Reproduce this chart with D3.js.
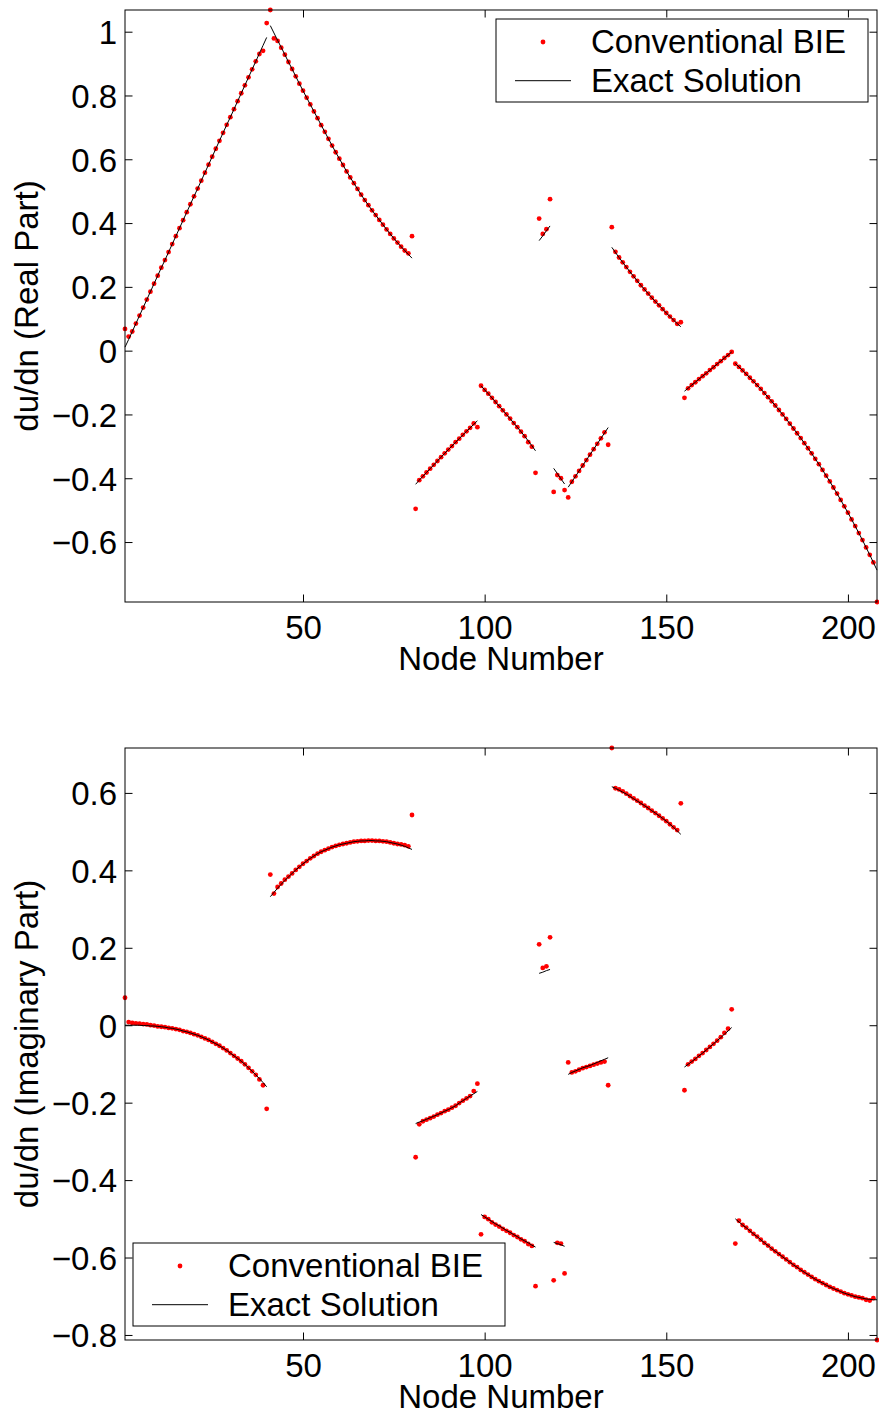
<!DOCTYPE html>
<html>
<head>
<meta charset="utf-8">
<script src="https://cdn.jsdelivr.net/npm/d3@7"></script>
<style>
  body { margin: 0; background: #fff; }
  svg text { font-family: "Liberation Sans", Arial, Helvetica, sans-serif; fill: #000; }
</style>
</head>
<body>
<svg id="chart" width="879" height="1414"></svg>
<script>
// Boundary nodes 1..208, split into ten boundary segments (first node of each)
const nodeCount = 208;
const segmentStarts = [1, 41, 81, 99, 115, 119, 123, 135, 155, 169];
const xTicks = [50, 100, 150, 200];
const realTicks = [-0.6, -0.4, -0.2, 0, 0.2, 0.4, 0.6, 0.8, 1];
const imagTicks = [-0.8, -0.6, -0.4, -0.2, 0, 0.2, 0.4, 0.6];
const legendLabels = ["Conventional BIE", "Exact Solution"];

// du/dn, real part — exact solution at each node
const exactReal = [
  0.011, 0.035, 0.060, 0.085, 0.110, 0.135, 0.160, 0.185, 0.210, 0.235,
  0.260, 0.284, 0.309, 0.334, 0.359, 0.384, 0.409, 0.434, 0.459, 0.484,
  0.508, 0.533, 0.558, 0.583, 0.608, 0.633, 0.658, 0.683, 0.708, 0.732,
  0.757, 0.782, 0.807, 0.832, 0.857, 0.882, 0.907, 0.932, 0.957, 0.982,
  1.019, 0.996, 0.973, 0.951, 0.928, 0.905, 0.883, 0.860, 0.837, 0.815,
  0.793, 0.772, 0.750, 0.729, 0.707, 0.686, 0.664, 0.643, 0.622, 0.602,
  0.582, 0.562, 0.543, 0.525, 0.507, 0.489, 0.472, 0.456, 0.440, 0.425,
  0.410, 0.395, 0.380, 0.366, 0.352, 0.339, 0.326, 0.314, 0.302, 0.290,
  -0.419, -0.406, -0.394, -0.382, -0.370, -0.358, -0.346, -0.334, -0.322, -0.310,
  -0.299, -0.287, -0.276, -0.264, -0.253, -0.242, -0.231, -0.220,
  -0.110, -0.123, -0.135, -0.148, -0.161, -0.174, -0.187, -0.200, -0.213, -0.227,
  -0.240, -0.254, -0.268, -0.283, -0.298, -0.314,
  0.345, 0.360, 0.376, 0.391,
  -0.369, -0.385, -0.402, -0.418,
  -0.428, -0.411, -0.394, -0.377, -0.360, -0.343, -0.326, -0.309, -0.292, -0.275,
  -0.258, -0.241,
  0.324, 0.308, 0.292, 0.277, 0.262, 0.247, 0.233, 0.219, 0.205, 0.192,
  0.179, 0.166, 0.154, 0.142, 0.130, 0.118, 0.107, 0.096, 0.085, 0.075,
  -0.127, -0.118, -0.108, -0.099, -0.089, -0.080, -0.071, -0.061, -0.052, -0.042,
  -0.033, -0.023, -0.014, -0.004,
  -0.040, -0.051, -0.062, -0.073, -0.085, -0.096, -0.108, -0.120, -0.133, -0.146,
  -0.159, -0.172, -0.186, -0.200, -0.214, -0.229, -0.244, -0.259, -0.274, -0.290,
  -0.306, -0.322, -0.339, -0.356, -0.374, -0.392, -0.410, -0.429, -0.448, -0.468,
  -0.488, -0.508, -0.529, -0.550, -0.572, -0.594, -0.617, -0.640, -0.664, -0.688
];

// du/dn, real part — conventional BIE result at each node
const bieReal = [
  0.068, 0.044, 0.060, 0.085, 0.110, 0.135, 0.160, 0.185, 0.210, 0.235,
  0.260, 0.284, 0.309, 0.334, 0.359, 0.384, 0.409, 0.434, 0.459, 0.484,
  0.508, 0.533, 0.558, 0.583, 0.608, 0.633, 0.658, 0.683, 0.708, 0.732,
  0.757, 0.782, 0.807, 0.832, 0.857, 0.882, 0.907, 0.930, 0.940, 1.027,
  1.068, 0.979, 0.971, 0.950, 0.928, 0.905, 0.883, 0.860, 0.837, 0.815,
  0.793, 0.772, 0.750, 0.729, 0.707, 0.686, 0.664, 0.643, 0.622, 0.602,
  0.582, 0.562, 0.543, 0.525, 0.507, 0.489, 0.472, 0.456, 0.440, 0.425,
  0.410, 0.395, 0.380, 0.366, 0.352, 0.339, 0.326, 0.314, 0.305, 0.359,
  -0.496, -0.406, -0.394, -0.382, -0.370, -0.358, -0.346, -0.334, -0.322, -0.310,
  -0.299, -0.287, -0.276, -0.264, -0.253, -0.242, -0.228, -0.240,
  -0.110, -0.123, -0.135, -0.148, -0.161, -0.174, -0.187, -0.200, -0.213, -0.227,
  -0.240, -0.254, -0.268, -0.287, -0.301, -0.383,
  0.414, 0.366, 0.381, 0.475,
  -0.443, -0.390, -0.400, -0.437,
  -0.460, -0.411, -0.394, -0.377, -0.360, -0.343, -0.326, -0.309, -0.292, -0.275,
  -0.256, -0.295,
  0.387, 0.310, 0.292, 0.277, 0.262, 0.247, 0.233, 0.219, 0.205, 0.192,
  0.179, 0.166, 0.154, 0.142, 0.130, 0.118, 0.107, 0.096, 0.084, 0.089,
  -0.148, -0.118, -0.108, -0.099, -0.089, -0.080, -0.071, -0.061, -0.052, -0.042,
  -0.033, -0.023, -0.014, -0.004,
  -0.041, -0.051, -0.062, -0.073, -0.085, -0.096, -0.108, -0.120, -0.133, -0.146,
  -0.159, -0.172, -0.186, -0.200, -0.214, -0.229, -0.244, -0.259, -0.274, -0.290,
  -0.306, -0.322, -0.339, -0.356, -0.374, -0.392, -0.410, -0.429, -0.448, -0.468,
  -0.488, -0.508, -0.529, -0.550, -0.572, -0.594, -0.617, -0.640, -0.664, -0.788
];

// du/dn, imaginary part — exact solution at each node
const exactImag = [
  0.000, 0.000, 0.000, 0.000, 0.000, -0.001, -0.001, -0.002, -0.002, -0.003,
  -0.004, -0.005, -0.007, -0.008, -0.010, -0.012, -0.015, -0.017, -0.020, -0.023,
  -0.026, -0.030, -0.034, -0.038, -0.043, -0.048, -0.053, -0.059, -0.065, -0.072,
  -0.079, -0.086, -0.093, -0.101, -0.110, -0.119, -0.128, -0.138, -0.148, -0.159,
  0.332, 0.343, 0.354, 0.364, 0.374, 0.383, 0.392, 0.401, 0.409, 0.417,
  0.424, 0.431, 0.437, 0.443, 0.448, 0.452, 0.456, 0.460, 0.463, 0.466,
  0.468, 0.470, 0.472, 0.474, 0.475, 0.476, 0.476, 0.477, 0.477, 0.476,
  0.476, 0.475, 0.474, 0.472, 0.470, 0.468, 0.465, 0.462, 0.458, 0.454,
  -0.254, -0.250, -0.247, -0.243, -0.239, -0.235, -0.231, -0.227, -0.222, -0.218,
  -0.213, -0.208, -0.201, -0.195, -0.189, -0.183, -0.177, -0.171,
  -0.489, -0.495, -0.501, -0.507, -0.513, -0.518, -0.524, -0.530, -0.535, -0.541,
  -0.546, -0.552, -0.557, -0.562, -0.568, -0.573,
  0.134, 0.137, 0.141, 0.144,
  -0.561, -0.564, -0.567, -0.571,
  -0.127, -0.122, -0.118, -0.114, -0.110, -0.107, -0.104, -0.100, -0.096, -0.092,
  -0.088, -0.084,
  0.616, 0.612, 0.607, 0.602, 0.597, 0.591, 0.585, 0.579, 0.573, 0.567,
  0.561, 0.554, 0.548, 0.541, 0.534, 0.527, 0.519, 0.511, 0.502, 0.493,
  -0.108, -0.101, -0.094, -0.087, -0.079, -0.072, -0.064, -0.056, -0.048, -0.040,
  -0.032, -0.023, -0.015, -0.006,
  -0.500, -0.508, -0.516, -0.523, -0.531, -0.539, -0.546, -0.554, -0.562, -0.569,
  -0.577, -0.584, -0.591, -0.598, -0.605, -0.612, -0.619, -0.625, -0.632, -0.638,
  -0.644, -0.650, -0.656, -0.661, -0.666, -0.671, -0.676, -0.680, -0.684, -0.688,
  -0.692, -0.695, -0.698, -0.701, -0.703, -0.705, -0.707, -0.708, -0.709, -0.709
];

// du/dn, imaginary part — conventional BIE result at each node
const bieImag = [
  0.071, 0.008, 0.006, 0.005, 0.004, 0.003, 0.002, 0.000, -0.001, -0.003,
  -0.004, -0.005, -0.007, -0.008, -0.010, -0.012, -0.015, -0.017, -0.020, -0.023,
  -0.026, -0.030, -0.034, -0.038, -0.043, -0.048, -0.053, -0.059, -0.065, -0.072,
  -0.079, -0.086, -0.093, -0.101, -0.110, -0.119, -0.128, -0.140, -0.155, -0.216,
  0.389, 0.340, 0.357, 0.366, 0.376, 0.384, 0.392, 0.401, 0.409, 0.417,
  0.424, 0.431, 0.437, 0.443, 0.448, 0.452, 0.456, 0.460, 0.463, 0.466,
  0.468, 0.470, 0.472, 0.474, 0.475, 0.476, 0.476, 0.477, 0.477, 0.476,
  0.476, 0.475, 0.474, 0.472, 0.470, 0.468, 0.467, 0.465, 0.462, 0.543,
  -0.341, -0.256, -0.248, -0.244, -0.240, -0.236, -0.231, -0.227, -0.222, -0.218,
  -0.213, -0.208, -0.201, -0.195, -0.189, -0.183, -0.170, -0.151,
  -0.540, -0.495, -0.501, -0.509, -0.515, -0.520, -0.526, -0.531, -0.536, -0.542,
  -0.547, -0.553, -0.558, -0.565, -0.570, -0.674,
  0.209, 0.148, 0.152, 0.227,
  -0.659, -0.562, -0.564, -0.641,
  -0.096, -0.122, -0.119, -0.115, -0.111, -0.108, -0.105, -0.102, -0.099, -0.096,
  -0.094, -0.155,
  0.716, 0.612, 0.609, 0.604, 0.598, 0.592, 0.586, 0.580, 0.574, 0.567,
  0.561, 0.554, 0.548, 0.541, 0.534, 0.527, 0.519, 0.511, 0.504, 0.573,
  -0.168, -0.101, -0.094, -0.087, -0.079, -0.072, -0.064, -0.056, -0.048, -0.040,
  -0.031, -0.020, -0.009, 0.041,
  -0.564, -0.505, -0.516, -0.523, -0.531, -0.539, -0.546, -0.554, -0.562, -0.569,
  -0.577, -0.584, -0.591, -0.598, -0.605, -0.612, -0.619, -0.625, -0.632, -0.638,
  -0.644, -0.650, -0.656, -0.661, -0.666, -0.671, -0.676, -0.680, -0.684, -0.688,
  -0.692, -0.695, -0.698, -0.701, -0.703, -0.705, -0.709, -0.711, -0.705, -0.813
];

const svg = d3.select("#chart");
const FONT = 33;
const TICK = 7.5;
const plotLeft = 125, plotRight = 877;

const x = d3.scaleLinear().domain([1, nodeCount]).range([plotLeft, plotRight]);
const fmt = d => (Math.abs(d) < 1e-9 ? "0" : d3.format(".1~f")(d));

// Contiguous node ranges of each boundary segment
const segments = segmentStarts.map((s, i) => {
  const e = i + 1 < segmentStarts.length ? segmentStarts[i + 1] - 1 : nodeCount;
  return d3.range(s, e + 1);
});

function drawPanel(opt) {
  const { top, bottom, exact, bie, ticks, yLabel, legendX, legendY } = opt;
  const all = exact.concat(bie);
  const y = d3.scaleLinear().domain(d3.extent(all)).range([bottom, top]);
  const g = svg.append("g");

  // BIE nodal values (red dots)
  g.append("g").selectAll("circle")
    .data(bie.map((v, i) => ({ n: i + 1, v })))
    .join("circle")
    .attr("cx", d => x(d.n))
    .attr("cy", d => y(d.v))
    .attr("r", 2.4)
    .attr("fill", "#ff0000");

  // Exact solution, one polyline per segment
  const line = d3.line().x(n => x(n)).y(n => y(exact[n - 1]));
  g.append("g").selectAll("path")
    .data(segments)
    .join("path")
    .attr("d", line)
    .attr("fill", "none")
    .attr("stroke", "#000")
    .attr("stroke-width", 1);

  // Axes with inward ticks on all four sides
  const bottomAxis = g.append("g")
    .attr("transform", `translate(0,${bottom})`)
    .call(d3.axisBottom(x).tickValues(xTicks).tickSize(-TICK).tickPadding(14).tickFormat(d3.format("d")));
  const topAxis = g.append("g")
    .attr("transform", `translate(0,${top})`)
    .call(d3.axisTop(x).tickValues(xTicks).tickSize(-TICK).tickFormat(""));
  const leftAxis = g.append("g")
    .attr("transform", `translate(${plotLeft},0)`)
    .call(d3.axisLeft(y).tickValues(ticks).tickSize(-TICK).tickPadding(8).tickFormat(fmt));
  const rightAxis = g.append("g")
    .attr("transform", `translate(${plotRight},0)`)
    .call(d3.axisRight(y).tickValues(ticks).tickSize(-TICK).tickFormat(""));

  [bottomAxis, topAxis, leftAxis, rightAxis].forEach(a => {
    a.select(".domain").remove();
    a.selectAll(".tick line").attr("stroke", "#000").attr("stroke-width", 1);
    a.selectAll("text").attr("font-size", FONT).attr("font-family", null).attr("fill", "#000");
  });
  leftAxis.selectAll("text").attr("dy", "0.36em");

  // Plot frame
  g.append("rect")
    .attr("x", plotLeft).attr("y", top)
    .attr("width", plotRight - plotLeft).attr("height", bottom - top)
    .attr("fill", "none").attr("stroke", "#000").attr("stroke-width", 1);

  // Axis titles
  g.append("text")
    .attr("x", (plotLeft + plotRight) / 2)
    .attr("y", bottom + 68)
    .attr("text-anchor", "middle")
    .attr("font-size", FONT)
    .text("Node Number");
  g.append("text")
    .attr("transform", `translate(38,${(top + bottom) / 2}) rotate(-90)`)
    .attr("text-anchor", "middle")
    .attr("font-size", FONT)
    .text(yLabel);

  // Legend
  const lg = g.append("g").attr("transform", `translate(${legendX},${legendY})`);
  lg.append("rect").attr("width", 372).attr("height", 83)
    .attr("fill", "#fff").attr("stroke", "#000").attr("stroke-width", 1);
  lg.append("circle").attr("cx", 47).attr("cy", 23).attr("r", 2.4).attr("fill", "#ff0000");
  lg.append("line").attr("x1", 19).attr("x2", 75).attr("y1", 61.7).attr("y2", 61.7)
    .attr("stroke", "#000").attr("stroke-width", 1);
  lg.append("text").attr("x", 95).attr("y", 34).attr("font-size", FONT).text(legendLabels[0]);
  lg.append("text").attr("x", 95).attr("y", 73).attr("font-size", FONT).text(legendLabels[1]);
}

drawPanel({
  top: 10, bottom: 602, exact: exactReal, bie: bieReal, ticks: realTicks,
  yLabel: "du/dn (Real Part)", legendX: 496, legendY: 19
});
drawPanel({
  top: 748, bottom: 1340, exact: exactImag, bie: bieImag, ticks: imagTicks,
  yLabel: "du/dn (Imaginary Part)", legendX: 133, legendY: 1243
});
</script>
</body>
</html>
